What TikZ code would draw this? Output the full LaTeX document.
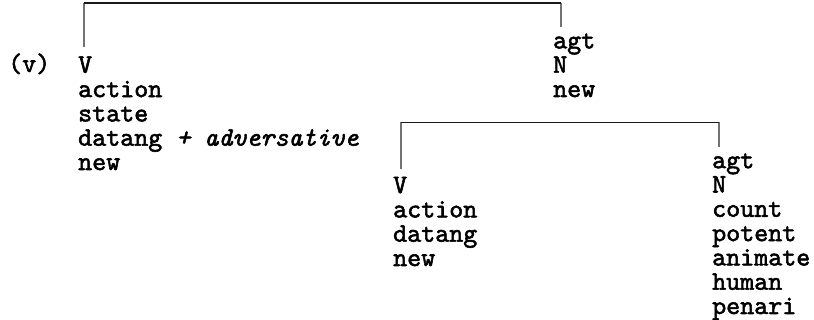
\documentclass[tikz,border=0pt]{standalone}
\usepackage{fontspec}
\newfontfamily\tw{lmmono10-regular.otf}[ItalicFont=lmmono10-italic.otf, FakeBold=2]
\usetikzlibrary{calc}
\begin{document}
\begin{tikzpicture}[x=1pt,y=-1pt,
  lab/.style={anchor=base west, inner sep=0pt, align=left,
    font=\tw\fontsize{26.7}{24.3}\selectfont},
  vl/.style={line width=1.4pt, black!55},
  hl/.style={line width=1.8pt, black!90}]
\useasboundingbox (0,0) rectangle (814,320);
\node[lab] (tag) at (8,72) {(v)};
\node[lab] (v1) at (78,170) {V\\action\\state\\datang \textit{+ adversative}\\new};
\node[lab] (a1) at (553,97) {agt\\N\\new};
\node[lab] (v2) at (393,266) {V\\action\\datang\\new};
\node[lab] (a2) at (712,314) {agt\\N\\count\\potent\\animate\\human\\penari};
\coordinate (l1) at ($(v1.north west)+(6,-9)$);
\coordinate (r1) at ($(a1.north west)+(8,-6)$);
\coordinate (l2) at ($(v2.north west)+(8,-8)$);
\coordinate (r2) at ($(a2.north west)+(7,-6)$);
\draw[vl] (l1) -- ++(0,-44) coordinate (c1) -| (r1);
\draw[hl] (c1) -- (c1 -| r1);
\draw[vl] (l2) -- ++(0,-46) coordinate (c2) -| (r2);
\draw[hl] (c2) -- (c2 -| r2);
\end{tikzpicture}
\end{document}
